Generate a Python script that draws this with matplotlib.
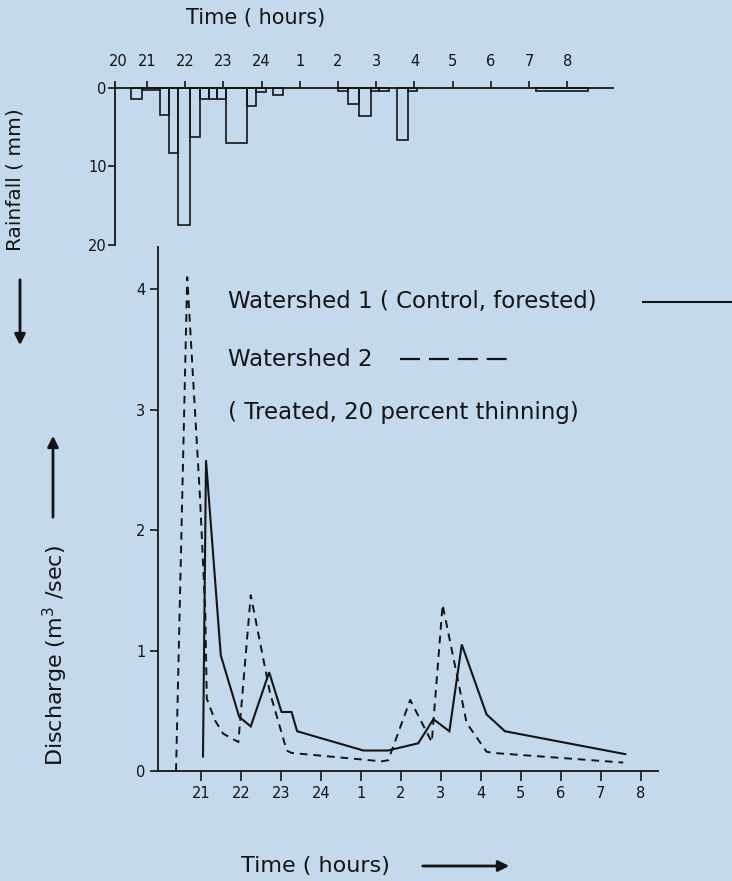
import matplotlib
matplotlib.use("Agg")
import matplotlib.pyplot as plt
from matplotlib.lines import Line2D
from matplotlib.patches import FancyArrowPatch

# rainfall blocks: start / end clock hour (25 = 1 a.m.) and depth in mm
rain_start = [20.58, 20.87, 21.34, 21.58, 21.81, 22.13, 22.39, 22.62, 22.83, 23.07, 23.62,
              23.85, 24.30, 26.00, 26.26, 26.55, 26.86, 27.07, 27.54, 27.83, 31.18]
rain_end = [20.87, 21.34, 21.58, 21.81, 22.13, 22.39, 22.62, 22.83, 23.07, 23.62, 23.85,
            24.11, 24.56, 26.26, 26.55, 26.86, 27.07, 27.33, 27.83, 28.07, 32.54]
rain_mm = [1.4, 0.3, 3.4, 8.3, 17.5, 6.2, 1.4, 1.4, 1.4, 7.0, 2.3,
           0.5, 0.85, 0.4, 2.1, 3.6, 0.4, 0.4, 6.6, 0.4, 0.4]

# watershed 1, control
ws1_t = [21.045, 21.12, 21.49, 21.95, 22.24, 22.70, 23.01, 23.26, 23.40, 25.06, 25.67,
         26.43, 26.81, 27.21, 27.52, 28.14, 28.60, 31.61]
ws1_q = [0.12, 2.58, 0.96, 0.45, 0.37, 0.82, 0.49, 0.49, 0.33, 0.17, 0.17,
         0.23, 0.43, 0.33, 1.05, 0.47, 0.33, 0.14]

# watershed 2, thinned
ws2_t = [20.37, 20.65, 20.97, 21.10, 21.14, 21.345, 21.55, 21.93, 22.24, 22.72, 23.14, 23.26,
         25.52, 25.68, 26.23, 26.77, 27.04, 27.39, 27.64, 28.14, 28.31, 31.56]
ws2_q = [0.0, 4.10, 2.27, 1.34, 0.60, 0.42, 0.31, 0.24, 1.46, 0.65, 0.17, 0.15,
         0.08, 0.09, 0.59, 0.24, 1.38, 0.81, 0.40, 0.16, 0.15, 0.07]

hour_ticks = [21, 22, 23, 24, 25, 26, 27, 28, 29, 30, 31, 32]
hour_labels = ['21', '22', '23', '24', '1', '2', '3', '4', '5', '6', '7', '8']

bg = '#c5d9ec'
ink = '#141414'
W, H = 732, 881

plt.rcParams['font.family'] = ['DejaVu Sans']

fig = plt.figure(figsize=(W / 100, H / 100), dpi=100, facecolor=bg)


def fx(px):
    return px / W


def fy(py):
    return 1 - py / H


# ---- rainfall (top) ----
ax_r = fig.add_axes([fx(115), fy(245), fx(498), 163 / H])
ax_r.set_facecolor('none')
widths = [e - s for s, e in zip(rain_start, rain_end)]
ax_r.bar(rain_start, rain_mm, width=widths, align='edge', fill=False,
         edgecolor=ink, linewidth=1.2)
ax_r.set_xlim(20.163, 33.196)
ax_r.set_ylim(20, -0.76)
for s in ['right', 'bottom']:
    ax_r.spines[s].set_visible(False)
ax_r.spines['top'].set_position(('data', 0))
for s in ['top', 'left']:
    ax_r.spines[s].set_linewidth(1.3)
    ax_r.spines[s].set_color(ink)
ax_r.xaxis.set_ticks_position('top')
ax_r.set_xticks([20.24] + hour_ticks)
ax_r.set_xticklabels(['20'] + hour_labels)
ax_r.xaxis.get_major_ticks()[0].tick2line.set_visible(False)
ax_r.tick_params(axis='x', direction='out', length=5, width=1.2, pad=9,
                 labelsize=10.5, colors=ink)
ax_r.set_yticks([0, 10, 20])
ax_r.tick_params(axis='y', direction='out', length=5, width=1.2, pad=1,
                 labelsize=10.5, colors=ink)

# ---- discharge (bottom) ----
ax_q = fig.add_axes([fx(158), fy(771), fx(500), 524 / H])
ax_q.set_facecolor('none')
ax_q.plot(ws1_t, ws1_q, color=ink, linewidth=1.5, solid_joinstyle='miter')
ax_q.plot(ws2_t, ws2_q, color=ink, linewidth=1.4, linestyle=(0, (4, 3)))
ax_q.set_xlim(19.919, 32.43)
ax_q.set_ylim(0, 4.35)
for s in ['right', 'top']:
    ax_q.spines[s].set_visible(False)
for s in ['bottom', 'left']:
    ax_q.spines[s].set_linewidth(1.3)
    ax_q.spines[s].set_color(ink)
ax_q.set_xticks(hour_ticks)
ax_q.set_xticklabels(hour_labels)
ax_q.set_yticks([0, 1, 2, 3, 4])
ax_q.tick_params(axis='x', direction='out', length=7, width=1.2, pad=3.5,
                 labelsize=10.5, colors=ink)
ax_q.tick_params(axis='y', direction='out', length=6, width=1.2, pad=3,
                 labelsize=10.5, colors=ink)

# ---- key ----
key_size = 16.5
fig.text(fx(228), fy(302), 'Watershed 1 ( Control, forested)', fontsize=key_size,
         color=ink, va='center', ha='left')
fig.add_artist(Line2D([fx(643), fx(732)], [fy(302), fy(302)], color=ink,
                      linewidth=1.5, transform=fig.transFigure))
fig.text(fx(228), fy(359), 'Watershed 2', fontsize=key_size, color=ink,
         va='center', ha='left')
fig.add_artist(Line2D([fx(400), fx(507)], [fy(359), fy(359)], color=ink,
                      linewidth=1.6, linestyle=(0, (9, 4)),
                      transform=fig.transFigure))
fig.text(fx(228), fy(413), '( Treated, 20 percent thinning)', fontsize=key_size,
         color=ink, va='center', ha='left')

# ---- axis titles and arrows ----
fig.text(fx(256), fy(18), 'Time ( hours)', fontsize=15, color=ink,
         ha='center', va='center')
fig.text(fx(315), fy(866), 'Time ( hours)', fontsize=16, color=ink,
         ha='center', va='center')
fig.text(fx(15), fy(180), 'Rainfall ( mm)', fontsize=14.5, color=ink,
         rotation=90, ha='center', va='center')
fig.text(fx(55), fy(656), 'Discharge (m$^3$ /sec)', fontsize=16, color=ink,
         rotation=90, ha='center', va='center')


def arrow(x0, y0, x1, y1):
    fig.add_artist(FancyArrowPatch((fx(x0), fy(y0)), (fx(x1), fy(y1)),
                                   transform=fig.transFigure,
                                   arrowstyle='-|>', mutation_scale=16,
                                   linewidth=2, color=ink))


arrow(20, 277, 20, 348)
arrow(53, 520, 53, 433)
arrow(420, 866, 512, 866)

fig.savefig('out.png', dpi=100, facecolor=bg)
